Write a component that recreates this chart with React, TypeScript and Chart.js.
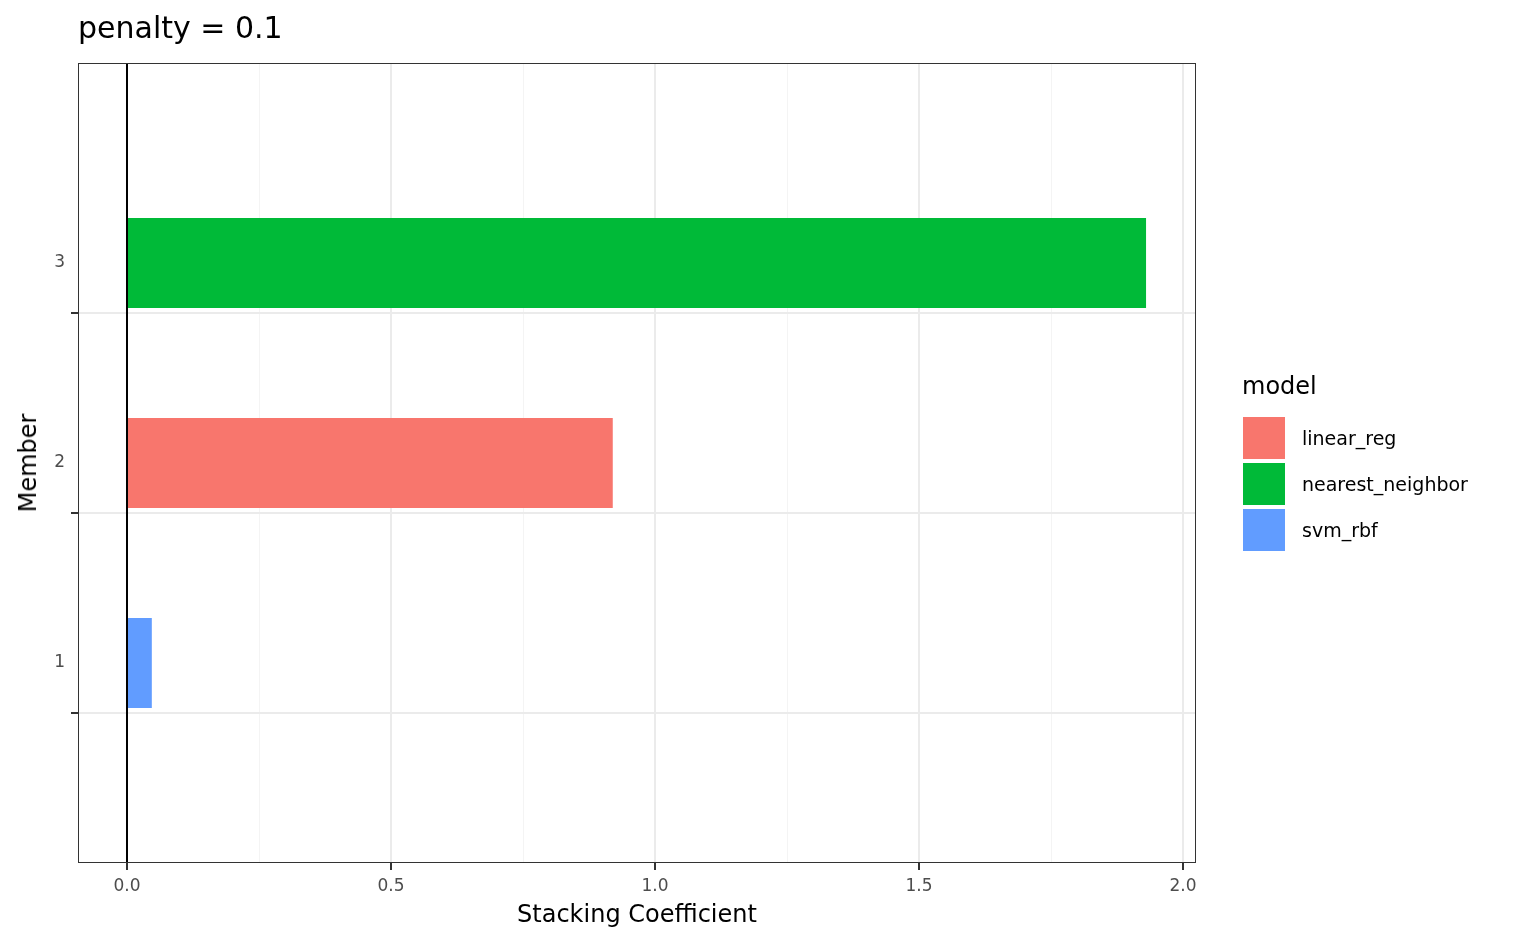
import { Chart, registerables } from "chart.js";
import { useEffect, useRef } from "react";

Chart.register(...registerables);

const members = [1, 2, 3];
const coefficients = [0.047, 0.92, 1.93];
const models = ["svm_rbf", "linear_reg", "nearest_neighbor"];
const legendModels = ["linear_reg", "nearest_neighbor", "svm_rbf"];
const modelColors: Record<string, string> = {
  linear_reg: "#F8766D",
  nearest_neighbor: "#00BA38",
  svm_rbf: "#619CFF",
};

const FONT = "'DejaVu Sans', sans-serif";

const isHalf = (c: any) => {
  const v = c?.tick?.value;
  return v !== undefined && Math.abs((v * 2) % 1) < 1e-6;
};
const isWhole = (c: any) => {
  const v = c?.tick?.value;
  return v !== undefined && Number.isInteger(v);
};

const framePlugin = {
  id: "frame",
  afterDatasetsDraw(chart: any) {
    const { ctx, chartArea, scales } = chart;
    const x0 = scales.x.getPixelForValue(0);
    ctx.save();
    ctx.strokeStyle = "#000";
    ctx.lineWidth = 2;
    ctx.beginPath();
    ctx.moveTo(x0, chartArea.top);
    ctx.lineTo(x0, chartArea.bottom);
    ctx.stroke();
    ctx.strokeStyle = "#333";
    ctx.lineWidth = 1;
    ctx.strokeRect(chartArea.left + 0.5, chartArea.top + 0.5, chartArea.width - 1, chartArea.height - 1);
    ctx.restore();
  },
};

export default function App() {
  const canvasRef = useRef<HTMLCanvasElement | null>(null);

  useEffect(() => {
    const el = canvasRef.current;
    if (!el) return;
    const chart = new Chart(el, {
      type: "bar",
      data: {
        datasets: [
          {
            data: members.map((m, i) => ({ x: coefficients[i], y: m })) as any,
            backgroundColor: models.map((m) => modelColors[m]),
            barPercentage: 0.9,
            categoryPercentage: 1,
          },
        ],
      },
      options: {
        indexAxis: "y",
        animation: false,
        responsive: false,
        layout: { padding: { top: 63, right: 340, left: 0, bottom: 0 } },
        plugins: { legend: { display: false }, tooltip: { enabled: false } },
        scales: {
          x: {
            type: "linear",
            min: -0.0928,
            max: 2.0246,
            afterFit(s: any) { s.height = 86; },
            afterBuildTicks(s: any) {
              const t = [];
              for (let i = 0; i <= 8; i++) t.push({ value: i * 0.25 });
              s.ticks = t;
            },
            border: { display: false },
            grid: {
              color: (c: any) => (isHalf(c) ? "#ebebeb" : "#f4f4f4"),
              lineWidth: (c: any) => (isHalf(c) ? 2 : 1),
              tickColor: (c: any) => (isHalf(c) ? "#333" : "rgba(0,0,0,0)"),
              tickLength: 7,
            },
            ticks: {
              autoSkip: false,
              maxRotation: 0,
              padding: 6,
              color: "#4d4d4d",
              font: { family: FONT, size: 17 },
              callback: (v: any) => (Math.abs((Number(v) * 2) % 1) < 1e-6 ? Number(v).toFixed(1) : ""),
            },
          },
          y: {
            type: "linear",
            min: 0.4,
            max: 3.6,
            afterFit(s: any) { s.width = 78; },
            afterBuildTicks(s: any) {
              s.ticks = [1, 1.5, 2, 2.5, 3].map((value) => ({ value }));
            },
            border: { display: false },
            grid: {
              color: (c: any) => (isWhole(c) ? "#ebebeb" : "rgba(0,0,0,0)"),
              lineWidth: 2,
              tickColor: (c: any) => (isWhole(c) ? "#333" : "rgba(0,0,0,0)"),
              tickLength: 7,
            },
            ticks: {
              autoSkip: false,
              padding: 6,
              color: "#4d4d4d",
              font: { family: FONT, size: 17 },
              callback: (v: any) => (Number.isInteger(Number(v)) ? String(v) : ""),
            },
          },
        },
      },
      plugins: [framePlugin],
    });
    return () => chart.destroy();
  }, []);

  return (
    <div style={{ position: "absolute", left: 0, top: 0, width: 1536, height: 949, background: "#fff", fontFamily: FONT, color: "#000" }}>
      <canvas ref={canvasRef} width={1536} height={949} style={{ position: "absolute", left: 0, top: 0 }} />
      <div style={{ position: "absolute", left: 78, top: 10, fontSize: 30 }}>penalty = 0.1</div>
      <span style={{ position: "absolute", left: 637, top: 900, fontSize: 24, transform: "translateX(-50%)", whiteSpace: "nowrap" }}>Stacking Coefficient</span>
      <div style={{ position: "absolute", left: 28, top: 463, fontSize: 24, transform: "translate(-50%,-50%) rotate(-90deg)", whiteSpace: "nowrap" }}>Member</div>
      <div style={{ position: "absolute", left: 1242, top: 372, fontSize: 24 }}>model</div>
      {legendModels.map((m, i) => (
        <div key={m} style={{ position: "absolute", left: 1243, top: 417 + i * 46, height: 42, display: "flex", alignItems: "center" }}>
          <div style={{ width: 42, height: 42, background: modelColors[m] }} />
          <span style={{ marginLeft: 17, fontSize: 19 }}>{m}</span>
        </div>
      ))}
    </div>
  );
}
